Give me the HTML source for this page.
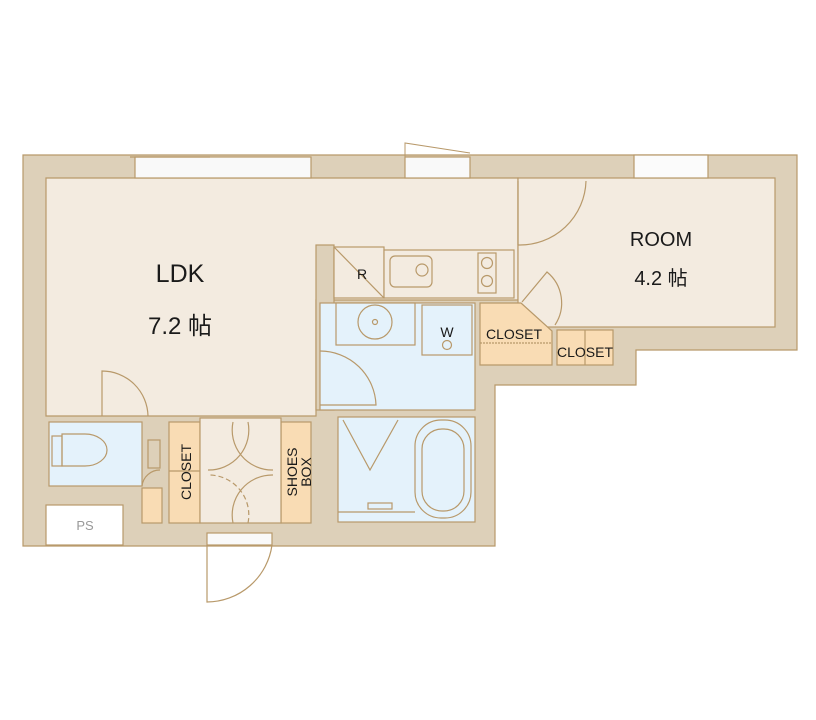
<!DOCTYPE html>
<html><head><meta charset="utf-8"><style>
html,body{margin:0;padding:0;background:#fff;width:816px;height:720px;overflow:hidden}
svg{display:block}
text{font-family:"Liberation Sans","Noto Sans CJK JP",sans-serif;fill:#1a1a1a}
</style></head><body>
<svg width="816" height="720" viewBox="0 0 816 720" xmlns="http://www.w3.org/2000/svg">
<g stroke="#b8996a" stroke-width="1.2">
<polygon points="23,155 797,155 797,350 636,350 636,385 495,385 495,546 23,546" fill="#ddd0b9"/>
<polygon points="46,178 518,178 518,300 316,300 316,416 46,416" fill="#f3ebe0"/>
<rect x="518" y="178" width="257" height="149" fill="#f3ebe0"/>
<rect x="135" y="157" width="176" height="21" fill="#f9f9f9"/>
<rect x="405" y="157" width="65" height="21" fill="#f9f9f9"/>
<rect x="634" y="155" width="74" height="23" fill="#fbfbfb"/>
<line x1="130" y1="157" x2="210" y2="157"/>
<polyline points="405,157 405,143 470,153" fill="none" stroke-width="1"/>
<rect x="316" y="245" width="18" height="165" fill="#ddd0b9"/>
<rect x="334" y="247" width="50" height="51" fill="#f3ebe0"/>
<line x1="334" y1="247" x2="384" y2="298"/>
<rect x="384" y="250" width="130" height="48" fill="#f3ebe0"/>
<rect x="390" y="256" width="42" height="31" rx="5" fill="none"/>
<circle cx="422" cy="270" r="6" fill="none"/>
<rect x="478" y="253" width="18" height="40" fill="none"/>
<circle cx="487" cy="263" r="5.5" fill="none"/><circle cx="487" cy="281" r="5.5" fill="none"/>
<rect x="320" y="303" width="155" height="107" fill="#e4f2fb"/>
<rect x="336" y="303" width="79" height="42" fill="#e4f2fb"/>
<circle cx="375" cy="322" r="17" fill="none"/>
<circle cx="375" cy="322" r="2.5" fill="none"/>
<rect x="422" y="305" width="50" height="50" fill="#e4f2fb"/>
<circle cx="447" cy="345" r="4.5" fill="none"/>
<path d="M320,351 A56,56 0 0 1 376,405 L320,405" fill="none"/>
<rect x="338" y="417" width="137" height="105" fill="#e4f2fb"/>
<rect x="415" y="420" width="56" height="98" rx="26" fill="none"/>
<rect x="422" y="429" width="42" height="82" rx="20" fill="none"/>
<polyline points="343,420 370,470 398,420" fill="none"/>
<line x1="338" y1="512" x2="415" y2="512"/>
<rect x="368" y="503" width="24" height="6" fill="none"/>
<polygon points="480,303 521,303 552,331 552,365 480,365" fill="#f9dcb4"/>
<line x1="480" y1="343" x2="552" y2="343" stroke-dasharray="2,1"/>
<rect x="557" y="330" width="56" height="35" fill="#f9dcb4"/>
<line x1="585" y1="330" x2="585" y2="365"/>
<path d="M518,245 A66,66 0 0 0 586,181" fill="none"/>
<line x1="518" y1="181" x2="518" y2="245"/>
<path d="M522,302 L547,272 A40,40 0 0 1 555,325" fill="none"/>
<rect x="49" y="422" width="93" height="64" fill="#e4f2fb"/>
<path d="M62,434 L85,434 A22,16 0 0 1 85,466 L62,466 Z" fill="none"/>
<rect x="52" y="436" width="10" height="30" fill="none"/>
<rect x="148" y="440" width="12" height="28" fill="none"/>
<rect x="142" y="488" width="20" height="35" fill="#f9dcb4"/>
<path d="M142,486 A18,18 0 0 1 160,470" fill="none"/>
<rect x="169" y="422" width="31" height="101" fill="#f9dcb4"/>
<line x1="169" y1="471" x2="200" y2="471"/>
<rect x="281" y="422" width="30" height="101" fill="#f9dcb4"/>
<rect x="200" y="418" width="81" height="105" fill="#f3ebe0"/>
<path d="M233,422 A40,40 0 0 0 273,470 M248,422 A40,40 0 0 1 208,470" fill="none"/>
<path d="M233,523 A40,40 0 0 1 273,475" fill="none"/>
<path d="M248,523 A40,40 0 0 0 208,475" fill="none" stroke-dasharray="5,3"/>
<rect x="46" y="505" width="77" height="40" fill="#fff"/>
<rect x="207" y="533" width="65" height="12" fill="#f9f9f9"/>
<path d="M207,545 L207,602 A66,66 0 0 0 272,545" fill="none"/>
<path d="M102,416 L102,371 A46,46 0 0 1 148,416" fill="none"/>
</g>
<text x="180" y="282" font-size="25" text-anchor="middle">LDK</text>
<text x="180" y="334" font-size="24" text-anchor="middle">7.2 帖</text>
<text x="661" y="246" font-size="20" text-anchor="middle">ROOM</text>
<text x="661" y="285" font-size="20" text-anchor="middle">4.2 帖</text>
<text x="362" y="279" font-size="14" text-anchor="middle">R</text>
<text x="447" y="337" font-size="14" text-anchor="middle">W</text>
<text x="514" y="339" font-size="14" text-anchor="middle">CLOSET</text>
<text x="585" y="357" font-size="14" text-anchor="middle">CLOSET</text>
<text x="85" y="530" font-size="13" text-anchor="middle" style="fill:#999">PS</text>
<text transform="translate(191,472) rotate(-90)" font-size="14" text-anchor="middle">CLOSET</text>
<text transform="translate(297,472) rotate(-90)" font-size="14" text-anchor="middle">SHOES</text>
<text transform="translate(311,472) rotate(-90)" font-size="14" text-anchor="middle">BOX</text>
</svg>
</body></html>
